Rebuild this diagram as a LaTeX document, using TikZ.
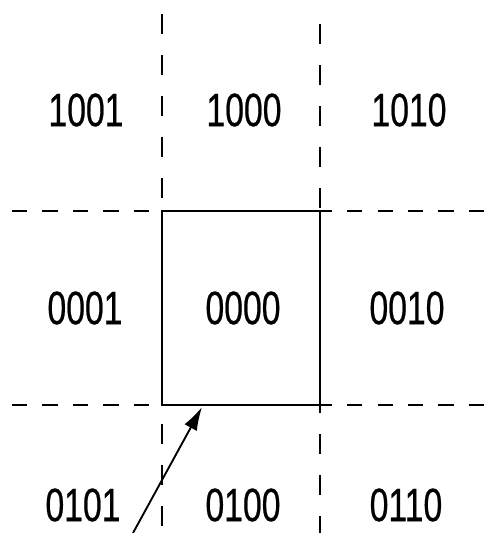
\documentclass[tikz,border=0pt]{standalone}
\usepackage{fontspec}
\newfontfamily\codefont[FakeStretch=0.72,FakeBold=0.5]{Liberation Sans}
\usetikzlibrary{arrows.meta}
\begin{document}
\begin{tikzpicture}[x=0.03cm,y=-0.03cm,
  code/.style={font=\codefont\fontsize{40}{40}\selectfont, inner sep=0pt},
  hcut/.style={line width=2.4pt, dash pattern=on 13pt off 13pt},
  vcut/.style={line width=2.4pt, dash pattern=on 17pt off 18pt}]
\useasboundingbox (0,0) rectangle (491,533);
% extended edges
\draw[vcut] (162,14) -- (162,533);
\draw[vcut] (320,24) -- (320,533);
\draw[hcut] (12,211) -- (486,211);
\draw[hcut] (12,405) -- (486,405);
% clip window
\node[draw, fill=white, line width=2.2pt, minimum width=158*0.03cm, minimum height=194*0.03cm, inner sep=0pt] (win) at (241,308) {};
% region codes
\node[code] (c1001) at (86,110) {1001};
\node[code] (c1000) at (244,110) {1000};
\node[code] (c1010) at (409,110) {1010};
\node[code] (c0001) at (85,308) {0001};
\node[code] (c0000) at (243,308) {0000};
\node[code] (c0010) at (407,308) {0010};
\node[code] (c0101) at (83,505) {0101};
\node[code] (c0100) at (243,505) {0100};
\node[code] (c0110) at (406,505) {0110};
\coordinate (tail) at (133,533);
\coordinate (hit) at (202,407);
\draw[-{Latex[length=20pt,width=12pt]}, line width=1.6pt] (tail) -- (hit);
\end{tikzpicture}
\end{document}
